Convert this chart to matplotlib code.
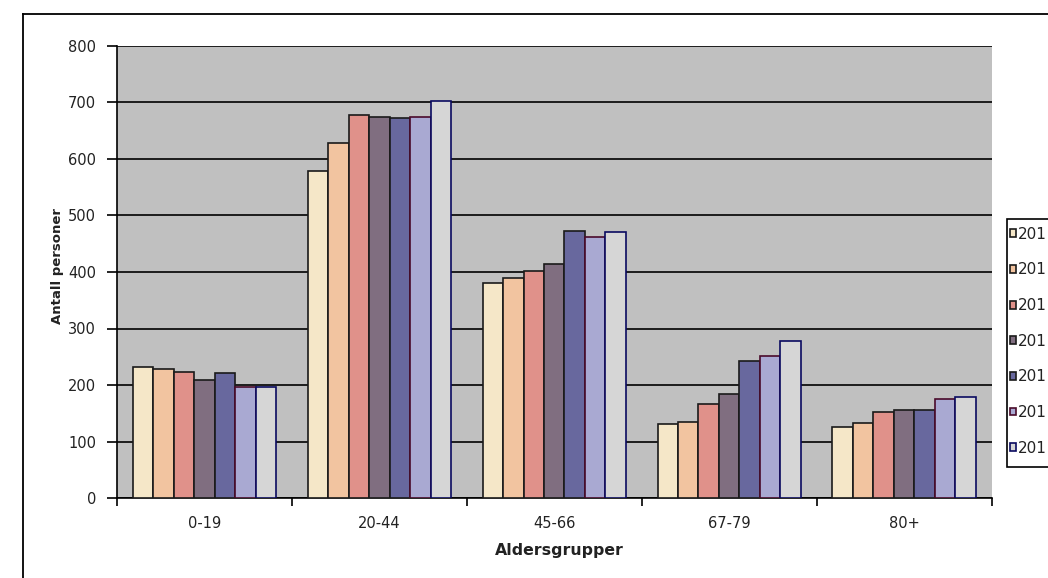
import numpy as np
import matplotlib.pyplot as plt
from matplotlib.lines import Line2D
from matplotlib.patches import Rectangle

#data
groups=['0-19','20-44','45-66','67-79','80+']
#legend labels are cut at the image edge in the original, only "201" is readable
years=['201','201','201','201','201','201','201']

v1=[232,578,381,131,126]
v2=[229,629,390,135,132]
v3=[223,678,402,166,152]
v4=[208,675,415,184,156]
v5=[221,673,472,242,156]
v6=[197,675,462,251,175]
v7=[196,703,471,278,178]
allvals=[v1,v2,v3,v4,v5,v6,v7]

#excel-like colours
fills=['#F5E7C8','#F2C4A0','#E0918A','#806E80','#68689E','#A9A9D2','#D6D6D6']
edges=['#1a1a1a','#1a1a1a','#1a1a1a','#1a1a1a','#1a1a1a','#4a0a2a','#0a0a60']

fig=plt.figure(figsize=(10.48,5.78),dpi=100)
ax=fig.add_axes([117/1048.,1-498/578.,(991.5-117)/1048.,(498-46)/578.])
ax.set_facecolor('#C0C0C0')

#bars
x=np.arange(len(groups))
width=0.117
handles=[]
for i in range(len(years)):
    b=ax.bar(x+(i-3)*width,allvals[i],width,color=fills[i],edgecolor=edges[i],
             linewidth=1.2,zorder=3,label=years[i])
    handles.append(b)

#axes and grid
ax.set_xlim(-0.5,len(groups)-0.5)
ax.set_ylim(0,800)
ax.set_yticks(np.arange(0,801,100))
ax.yaxis.grid(True,color='black',linewidth=1.2,zorder=1)
ax.set_axisbelow(True)
for s in ['top','right']:
    ax.spines[s].set_visible(False)
ax.spines['left'].set_linewidth(1.2)
ax.spines['bottom'].set_linewidth(1.2)

ax.set_xticks(x)
ax.set_xticklabels(groups)
ax.set_xticks(np.arange(-0.5,len(groups),1.0),minor=True)
ax.tick_params(axis='x',which='major',length=0,pad=13,labelsize=10.5,labelcolor='#222222')
ax.tick_params(axis='x',which='minor',length=6,width=1.2,direction='out')
ax.tick_params(axis='y',length=7,width=1.2,direction='out',pad=8,labelsize=10.5,labelcolor='#222222')

#axis titles
fig.text(57/1048.,1-266/578.,'Antall personer',rotation=90,ha='center',va='center',
         fontsize=9.5,fontweight='bold',color='#222222')
fig.text(559/1048.,1-551/578.,'Aldersgrupper',ha='center',va='center',
         fontsize=11.3,fontweight='bold',color='#222222')

#outer chart frame (runs off right and bottom)
fig.add_artist(Line2D([23/1048.,23/1048.],[1-13.5/578.,-0.1],transform=fig.transFigure,color='black',linewidth=1.3))
fig.add_artist(Line2D([23/1048.,1.1],[1-13.5/578.,1-13.5/578.],transform=fig.transFigure,color='black',linewidth=1.3))

#legend box, also running off the right edge
fig.add_artist(Rectangle((1006.5/1048.,1-467/578.),0.2,(467-219)/578.,transform=fig.transFigure,
                         facecolor='white',edgecolor='black',linewidth=1.2,zorder=1))
leg=fig.legend(handles=handles,loc='upper left',bbox_to_anchor=(1002/1048.,1-219/578.),
               fontsize=11,frameon=False,
               handlelength=0.42,handleheight=0.42,handletextpad=0.12,labelspacing=1.35,
               borderpad=0.51,borderaxespad=0)
for t in leg.get_texts():
    t.set_color('#222222')

plt.savefig('out.png',dpi=100)
